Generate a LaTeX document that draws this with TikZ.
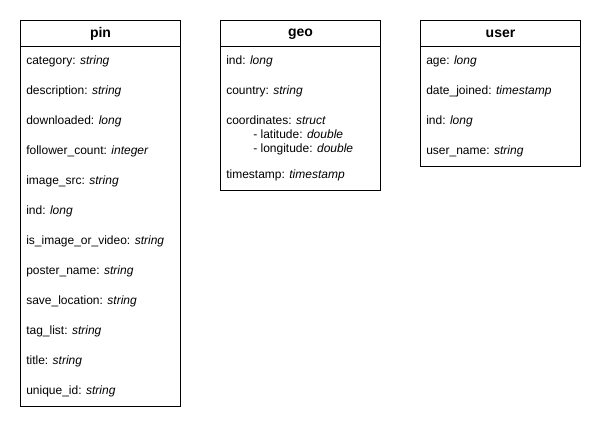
\documentclass[tikz,border=0pt]{standalone}
\usepackage{fontspec}
\setmainfont{Liberation Sans}
\begin{document}
\begin{tikzpicture}[x=0.75pt,y=-0.75pt,
  tbl/.style={draw=black,line width=0.75pt,fill=white},
  ttl/.style={font=\fontsize{10.5}{12}\selectfont\bfseries,anchor=center,inner sep=0pt},
  fld/.style={font=\fontsize{9}{11}\selectfont,anchor=base west,inner sep=0pt}]
\useasboundingbox (0,0) rectangle (601,430);
% pin
\draw[tbl] (20.5,20.5) rectangle (180.5,406.5);
\draw[line width=0.75pt] (20.5,46.5) -- (180.5,46.5);
\node[ttl] (pint) at (100.5,34) {pin};
\node[fld] (p1) at (26,64) {category: \textit{string}};
\node[fld] (p2) at (26,94) {description: \textit{string}};
\node[fld] (p3) at (26,124) {downloaded: \textit{long}};
\node[fld] (p4) at (26,154) {follower\_count: \textit{integer}};
\node[fld] (p5) at (26,184) {image\_src: \textit{string}};
\node[fld] (p6) at (26,214) {ind: \textit{long}};
\node[fld] (p7) at (26,244) {is\_image\_or\_video: \textit{string}};
\node[fld] (p8) at (26,274) {poster\_name: \textit{string}};
\node[fld] (p9) at (26,304) {save\_location: \textit{string}};
\node[fld] (p10) at (26,334) {tag\_list: \textit{string}};
\node[fld] (p11) at (26,364) {title: \textit{string}};
\node[fld] (p12) at (26,394) {unique\_id: \textit{string}};
% geo
\draw[tbl] (220.5,20.5) rectangle (380.5,190.5);
\draw[line width=0.75pt] (220.5,46.5) -- (380.5,46.5);
\node[ttl] (geot) at (300.5,34) {geo};
\node[fld] (g1) at (226,64) {ind: \textit{long}};
\node[fld] (g2) at (226,94) {country: \textit{string}};
\node[fld] (g3) at (226,124) {coordinates: \textit{struct}};
\node[fld] (g4) at (253,138) {- latitude: \textit{double}};
\node[fld] (g5) at (253,152) {- longitude: \textit{double}};
\node[fld] (g6) at (226,178) {timestamp: \textit{timestamp}};
% user
\draw[tbl] (420.5,20.5) rectangle (580.5,166.5);
\draw[line width=0.75pt] (420.5,46.5) -- (580.5,46.5);
\node[ttl] (usert) at (500.5,34) {user};
\node[fld] (u1) at (426,64) {age: \textit{long}};
\node[fld] (u2) at (426,94) {date\_joined: \textit{timestamp}};
\node[fld] (u3) at (426,124) {ind: \textit{long}};
\node[fld] (u4) at (426,154) {user\_name: \textit{string}};
\end{tikzpicture}
\end{document}
